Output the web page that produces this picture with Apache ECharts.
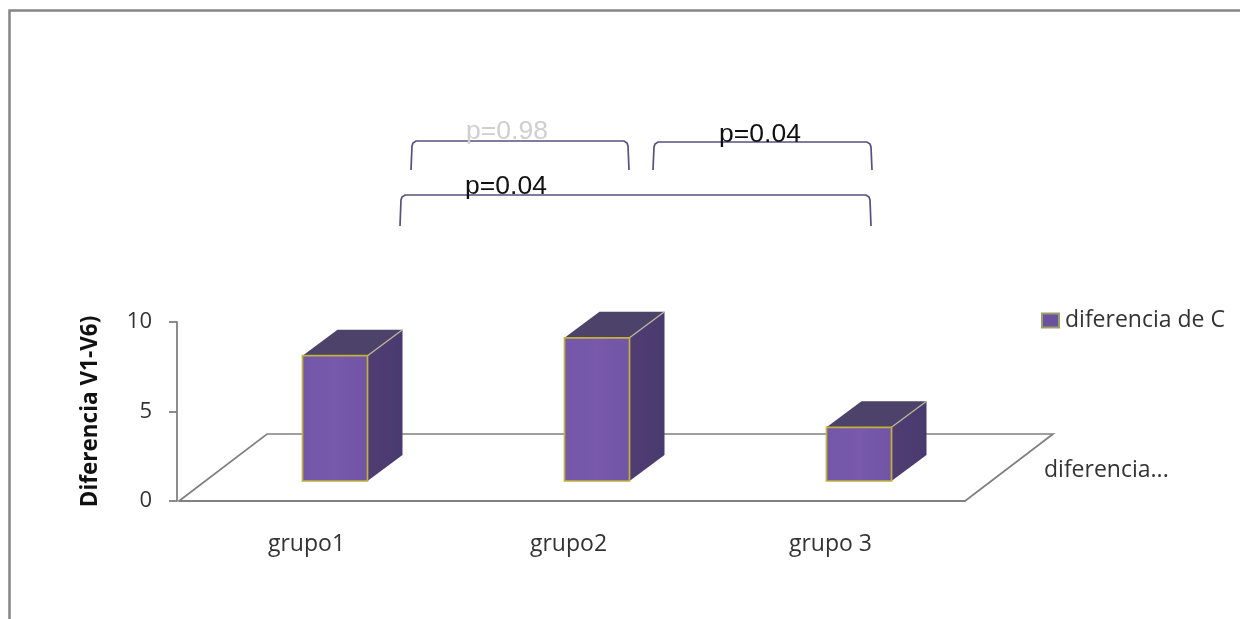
<!DOCTYPE html>
<html>
<head>
<meta charset="utf-8">
<style>html,body{margin:0;padding:0;background:#fff}#chart{width:1240px;height:619px}</style>
<script src="https://cdn.jsdelivr.net/npm/echarts@6/dist/echarts.min.js"></script>
</head>
<body>
<div id="chart"></div>
<script>
const categories = ['grupo1', 'grupo2', 'grupo 3'];
const seriesName = 'diferencia de C';
const differences = [7, 8, 3];
const yTicks = [0, 5, 10];
const depthLabel = 'diferencia...';
const comparisons = [
  { label: 'p=0.98', color: '#cfcfcf', x0: 411, x1: 629, y: 141, drop: 29, tx: 507, ty: 132 },
  { label: 'p=0.04', color: '#111111', x0: 653, x1: 872, y: 142, drop: 28, tx: 760, ty: 135 },
  { label: 'p=0.04', color: '#111111', x0: 400, x1: 871, y: 195, drop: 31, tx: 506, ty: 187 }
];

const FONT = '"Open Sans", Lato, sans-serif';
const AXIS = '#808080';

// Offsets of the oblique projection, in pixels
const floorDepth = [88, -67];
const barNear = [25, -20];
const barFar = [60, -46];
const barWidth = 65;

function poly(points, style) {
  return { type: 'polygon', shape: { points }, style };
}

function renderFloor(params, api) {
  const a = api.coord([0, 0]);
  const b = api.coord([2, 0]);
  const halfBand = api.size([1, 0])[0] / 2;
  const left = a[0] - halfBand;
  const right = b[0] + halfBand;
  const y = a[1];
  return {
    type: 'polyline',
    shape: {
      points: [
        [left, y],
        [left + floorDepth[0], y + floorDepth[1]],
        [right + floorDepth[0], y + floorDepth[1]],
        [right, y]
      ]
    },
    style: { stroke: AXIS, fill: null, lineWidth: 1.7 }
  };
}

function renderBar(params, api) {
  const idx = api.value(0);
  const base = api.coord([idx, 0]);
  const top = api.coord([idx, api.value(1)]);
  const h = base[1] - top[1];
  const xl = base[0] + barNear[0] - barWidth / 2;
  const xr = xl + barWidth;
  const yb = base[1] + barNear[1];
  const yt = yb - h;
  const dx = barFar[0] - barNear[0];
  const dy = barFar[1] - barNear[1];
  const edge = '#c2b23c';
  const sideFill = new echarts.graphic.LinearGradient(0, 0, 1, 0, [
    { offset: 0, color: '#503d72' },
    { offset: 1, color: '#483a70' }
  ]);
  const frontFill = new echarts.graphic.LinearGradient(0, 0, 1, 0, [
    { offset: 0, color: '#7257a8' },
    { offset: 0.5, color: '#7859ab' },
    { offset: 1, color: '#7054a6' }
  ]);
  return {
    type: 'group',
    children: [
      poly([[xr, yb], [xr + dx, yb + dy], [xr + dx, yt + dy], [xr, yt]], { fill: sideFill }),
      poly([[xl, yt], [xl + dx, yt + dy], [xr + dx, yt + dy], [xr, yt]], { fill: '#4d4269' }),
      { type: 'line', shape: { x1: xr, y1: yt, x2: xr + dx, y2: yt + dy }, style: { stroke: '#b9b59a', lineWidth: 1.4 } },
      { type: 'rect', shape: { x: xl, y: yt, width: barWidth, height: h }, style: { fill: frontFill, stroke: edge, lineWidth: 1.7 } }
    ]
  };
}

// Statistical comparison brackets above the columns
const bracketGraphics = [];
comparisons.forEach(c => {
  bracketGraphics.push({
    type: 'polyline',
    z: 10,
    shape: {
      points: [
        [c.x0, c.y + c.drop], [c.x0 + 1, c.y + 5], [c.x0 + 2, c.y + 2], [c.x0 + 5, c.y],
        [c.x1 - 5, c.y], [c.x1 - 2, c.y + 2], [c.x1 - 1, c.y + 5], [c.x1, c.y + c.drop]
      ]
    },
    style: { fill: null, stroke: '#55527f', lineWidth: 1.7 }
  });
  bracketGraphics.push({
    type: 'text',
    z: 11,
    x: c.tx,
    y: c.ty,
    style: { text: c.label, fill: c.color, font: '26.5px "Liberation Sans", Arial, sans-serif', align: 'center', verticalAlign: 'middle' }
  });
});

const chart = echarts.init(document.getElementById('chart'), null, { renderer: 'canvas' });
chart.setOption({
  animation: false,
  backgroundColor: '#ffffff',
  textStyle: { fontFamily: FONT },
  graphic: [
    // Outer chart frame, open towards the lower right
    {
      type: 'polyline',
      shape: { points: [[9.5, 619], [9.5, 10.5], [1240, 10.5]] },
      style: { stroke: '#858585', fill: null, lineWidth: 2.5 }
    },
    {
      type: 'text', x: 1044, y: 470,
      style: { text: depthLabel, fill: '#333333', font: '23px ' + FONT, align: 'left', verticalAlign: 'middle' }
    },
    ...bracketGraphics
  ],
  legend: {
    data: [seriesName],
    icon: 'rect',
    left: 1041,
    top: 309,
    itemWidth: 17,
    itemHeight: 14,
    itemGap: 0,
    padding: 0,
    textStyle: { fontSize: 23, color: '#333333', fontFamily: FONT, padding: [0, 0, 0, 1] }
  },
  grid: { left: 179, top: 322, width: 786, height: 179 },
  xAxis: {
    type: 'category',
    data: categories,
    axisTick: { show: false },
    axisLine: { lineStyle: { color: AXIS, width: 1.8 } },
    axisLabel: { fontSize: 23, color: '#333333', margin: 32, padding: [0, 7, 0, 0] }
  },
  yAxis: {
    type: 'value',
    min: yTicks[0],
    max: yTicks[yTicks.length - 1],
    interval: yTicks[1] - yTicks[0],
    offset: 2,
    name: 'Diferencia V1-V6)',
    nameLocation: 'middle',
    nameGap: 75,
    nameRotate: 90,
    nameTextStyle: { fontSize: 22.5, fontWeight: 'bold', color: '#111111', fontFamily: FONT },
    splitLine: { show: false },
    axisLine: { show: true, lineStyle: { color: AXIS, width: 1.8 } },
    axisTick: { show: true, length: 8, lineStyle: { color: AXIS, width: 1.8 } },
    axisLabel: { fontSize: 22, color: '#333333', margin: 25, padding: [6, 0, 0, 0] }
  },
  series: [
    {
      name: 'floor',
      type: 'custom',
      coordinateSystem: 'cartesian2d',
      renderItem: renderFloor,
      data: [[0, 0]],
      z: 1,
      silent: true
    },
    {
      name: seriesName,
      type: 'custom',
      coordinateSystem: 'cartesian2d',
      renderItem: renderBar,
      encode: { x: 0, y: 1 },
      data: differences.map((v, i) => [i, v]),
      itemStyle: { color: '#6a52a0', borderColor: '#9aa06a', borderWidth: 1 },
      z: 3
    }
  ]
});
</script>
</body>
</html>
